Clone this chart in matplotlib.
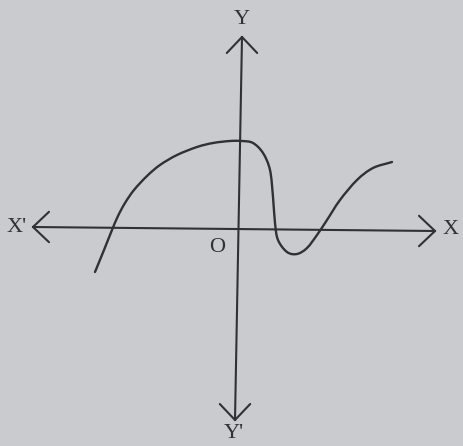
import matplotlib
matplotlib.use("Agg")
import matplotlib.pyplot as plt
from matplotlib.path import Path
from matplotlib.patches import PathPatch
import numpy as np

# curve, in pixels relative to origin O (y upward)
curve_x = [-144, -135, -127, -121, -114, -105, -92, -79, -62, -42, -26, -9, 3,
           14, 24, 31, 34, 36, 39, 48, 58, 68, 78, 88, 101, 118, 134, 153]
curve_y = [-43, -21, -1, 13, 26, 39, 53, 64, 74, 82, 86, 88, 88,
           86, 76, 59, 32, 6, -11, -23, -25, -19, -6, 9, 29, 49, 61, 67]

# axis end points (slightly tilted, as in the photo)
xaxis_x = [-206, 196]
xaxis_y = [2, -2]
yaxis_x = [3, -4]
yaxis_y = [192, -191]

labels = ["X'", "X", "Y", "Y'", "O"]
label_x = [-222, 212, 3, -5, -22]
label_y = [2, -1, 210, -205, -18]

ink = '#303134'

fig = plt.figure(figsize=(4.64, 4.46), dpi=100)
fig.patch.set_facecolor('#c9cbce')
ax = fig.add_axes([0, 0, 1, 1])
ax.set_facecolor('#c9cbce')
ax.set_xlim(-239, 225)
ax.set_ylim(-217, 229)
ax.axis('off')

ax.plot(xaxis_x, xaxis_y, color=ink, lw=1.5)
ax.plot(yaxis_x, yaxis_y, color=ink, lw=1.5)

# open arrow heads
def head(tx, ty, dx, dy, size=16):
    d = np.array([dx, dy], float)
    d /= np.linalg.norm(d)
    n = np.array([-d[1], d[0]])
    for s in (1, -1):
        p = np.array([tx, ty]) - size * d + s * size * 0.95 * n
        ax.plot([p[0], tx], [p[1], ty], color=ink, lw=1.5, solid_capstyle='round')

head(xaxis_x[0], xaxis_y[0], -1, 0)
head(xaxis_x[1], xaxis_y[1], 1, 0)
head(yaxis_x[0], yaxis_y[0], 0, 1)
head(yaxis_x[1], yaxis_y[1], 0, -1)

# smooth path through the traced points (Catmull-Rom as cubic beziers)
pts = np.column_stack([curve_x, curve_y]).astype(float)
ext = np.vstack([2 * pts[0] - pts[1], pts, 2 * pts[-1] - pts[-2]])
verts = [pts[0]]
codes = [Path.MOVETO]
for i in range(1, len(ext) - 2):
    p0, p1, p2, p3 = ext[i - 1], ext[i], ext[i + 1], ext[i + 2]
    verts += [p1 + (p2 - p0) / 6, p2 - (p3 - p1) / 6, p2]
    codes += [Path.CURVE4] * 3
ax.add_patch(PathPatch(Path(verts, codes), fill=False, edgecolor=ink, lw=1.7,
                       capstyle='round', joinstyle='round'))

for t, x, y in zip(labels, label_x, label_y):
    ax.text(x, y, t, ha='center', va='center', fontsize=16, color=ink,
            family=['Liberation Serif', 'DejaVu Serif'])

fig.savefig('out.png', dpi=100, facecolor=fig.get_facecolor())
